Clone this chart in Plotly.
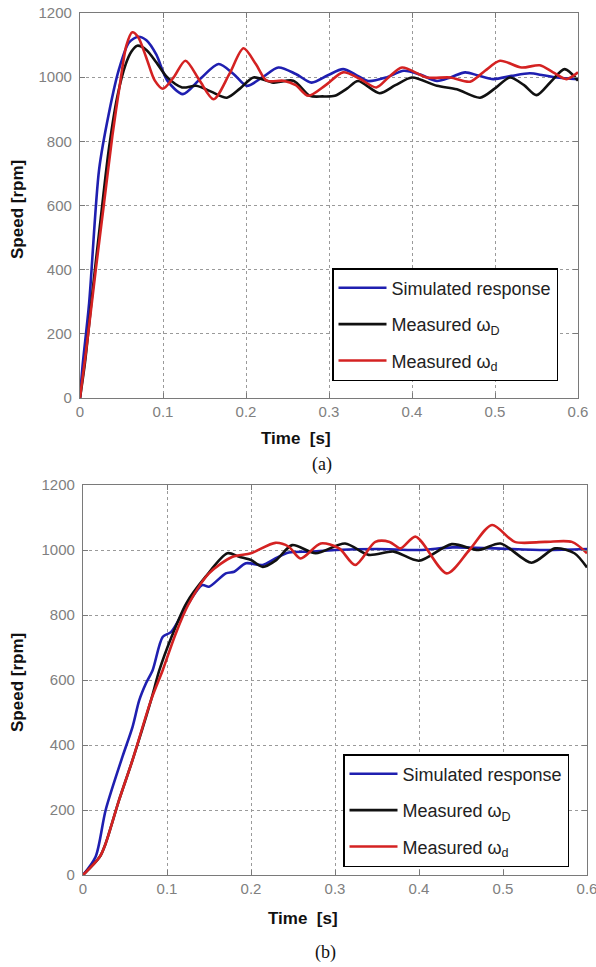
import plotly.graph_objects as go

# ---------------- Data: panel (a) ----------------
sim_a_t = [0, 0.003, 0.011, 0.023, 0.035, 0.047, 0.059, 0.070, 0.080, 0.092, 0.105, 0.124, 0.145, 0.167,
           0.185, 0.201, 0.22, 0.239, 0.26, 0.279, 0.298, 0.317, 0.332, 0.347, 0.37, 0.39, 0.41, 0.43,
           0.447, 0.464, 0.48, 0.498, 0.52, 0.542, 0.558, 0.574, 0.6]
sim_a = [0, 98, 296, 712, 890, 1025, 1108, 1126, 1115, 1070, 990, 947, 995, 1041,
         1010, 973, 1000, 1030, 1010, 983, 1005, 1025, 1008, 988, 1000, 1020, 1008, 988,
         1000, 1015, 1005, 994, 1004, 1012, 1006, 999, 994]

mD_a_t = [0, 0.006, 0.015, 0.025, 0.035, 0.045, 0.055, 0.062, 0.069, 0.08, 0.092, 0.105, 0.123, 0.14,
          0.158, 0.177, 0.193, 0.209, 0.233, 0.257, 0.277, 0.292, 0.307, 0.322, 0.335, 0.361, 0.38,
          0.4, 0.43, 0.454, 0.482, 0.5, 0.518, 0.535, 0.55, 0.567, 0.584, 0.6]
mD_a = [0, 110, 330, 560, 780, 940, 1040, 1080, 1098, 1085, 1046, 1000, 968, 973,
        955, 936, 965, 999, 983, 989, 942, 940, 942, 965, 988, 950, 975,
        999, 973, 962, 936, 965, 999, 975, 944, 985, 1025, 989]

md_a_t = [0, 0.007, 0.019, 0.029, 0.039, 0.049, 0.056, 0.063, 0.07, 0.08, 0.09, 0.1, 0.113, 0.127,
          0.144, 0.161, 0.18, 0.197, 0.212, 0.225, 0.245, 0.26, 0.275, 0.296, 0.317, 0.337, 0.357,
          0.372, 0.388, 0.418, 0.446, 0.47, 0.488, 0.506, 0.532, 0.554, 0.57, 0.586, 0.6]
md_a = [0, 140, 400, 608, 817, 994, 1100, 1140, 1125, 1060, 990, 964, 1000, 1051,
        990, 931, 1010, 1090, 1040, 989, 989, 975, 942, 975, 1015, 995, 968,
        1000, 1030, 999, 999, 986, 1020, 1051, 1030, 1037, 1015, 994, 1015]

# ---------------- Data: panel (b) ----------------
sim_b_t = [0, 0.015, 0.027, 0.047, 0.059, 0.067, 0.075, 0.083, 0.095, 0.105, 0.123, 0.142, 0.15, 0.17,
           0.18, 0.194, 0.214, 0.229, 0.245, 0.27, 0.3, 0.35, 0.4, 0.44, 0.49, 0.55, 0.6]
sim_b = [0, 56, 200, 364, 456, 538, 590, 631, 733, 748, 826, 892, 887, 928,
         933, 959, 954, 974, 992, 995, 1000, 1003, 1000, 1008, 1005, 1000, 1003]

mD_b_t = [0, 0.02, 0.027, 0.043, 0.059, 0.081, 0.091, 0.105, 0.123, 0.146, 0.172, 0.186, 0.2, 0.214,
          0.23, 0.249, 0.277, 0.312, 0.34, 0.37, 0.4, 0.439, 0.471, 0.497, 0.534, 0.562, 0.585, 0.6]
mD_b = [0, 56, 97, 231, 354, 538, 631, 730, 836, 918, 990, 979, 969, 948,
        969, 1015, 990, 1020, 985, 995, 967, 1018, 1000, 1020, 961, 1005, 990, 946]

md_b_t = [0, 0.02, 0.027, 0.043, 0.059, 0.081, 0.095, 0.11, 0.125, 0.15, 0.178, 0.2, 0.229, 0.245,
          0.259, 0.283, 0.305, 0.324, 0.348, 0.365, 0.378, 0.396, 0.433, 0.46, 0.487, 0.514, 0.55,
          0.582, 0.6]
md_b = [0, 56, 97, 231, 354, 538, 631, 740, 830, 928, 979, 990, 1022, 1010,
        974, 1020, 1005, 954, 1025, 1025, 1005, 1041, 928, 1000, 1077, 1025, 1025,
        1025, 990]

x_ticks = [0, 0.1, 0.2, 0.3, 0.4, 0.5, 0.6]
x_labels = ["0", "0.1", "0.2", "0.3", "0.4", "0.5", "0.6"]
y_ticks = [0, 200, 400, 600, 800, 1000, 1200]
names = ["Simulated response", "Measured \u03c9<sub>D</sub>", "Measured \u03c9<sub>d</sub>"]
colors = ["#1f1fb0", "#111111", "#d42222"]

W, H = 596, 967
fig = go.Figure()

panels = [
    ("x", "y", "legend", "a", [(sim_a_t, sim_a), (mD_a_t, mD_a), (md_a_t, md_a)]),
    ("x2", "y2", "legend2", "b", [(sim_b_t, sim_b), (mD_b_t, mD_b), (md_b_t, md_b)]),
]
for xa, ya, lg, tag, series in panels:
    for i, ((t, v), nm, c) in enumerate(zip(series, names, colors)):
        fig.add_trace(go.Scatter(x=t, y=v, mode="lines", name=nm, xaxis=xa, yaxis=ya, legend=lg,
                                 legendgroup=f"{tag}{i}",
                                 line=dict(color=c, width=2.6, shape="spline", smoothing=0.8)))

def px_x(p):
    return p / W

def px_y(p):
    return 1 - p / H

axis_common = dict(showline=True, mirror="ticks", linecolor="#7a7a7a", linewidth=1.2,
                   ticks="inside", ticklen=5, tickcolor="#7a7a7a", automargin=False,
                   ticklabeloverflow="allow",
                   showgrid=True, gridcolor="#9a9a9a", griddash="dot", gridwidth=1,
                   zeroline=False, tickfont=dict(family="Arial, Liberation Sans", size=15, color="#808080"))

# panel geometry (pixels)
a_x0, a_x1, a_y0, a_y1 = 80, 578, 13, 398
b_x0, b_x1, b_y0, b_y1 = 83, 587, 485, 875

legend_common = dict(xanchor="left", yanchor="top", bgcolor="white", bordercolor="black",
                     borderwidth=1.5, font=dict(family="Arial, Liberation Sans", size=18, color="#222222"),
                     itemwidth=48, tracegroupgap=10)

fig.update_layout(
    width=W, height=H, margin=dict(l=0, r=0, t=0, b=0, autoexpand=False),
    paper_bgcolor="white", plot_bgcolor="white",
    xaxis=dict(domain=[px_x(a_x0), px_x(a_x1)], range=[0, 0.6], tickvals=x_ticks, ticktext=x_labels,
               anchor="y", **axis_common),
    yaxis=dict(domain=[px_y(a_y1), px_y(a_y0)], range=[0, 1200], tickvals=y_ticks, anchor="x",
               ticklabelstandoff=4, **axis_common),
    xaxis2=dict(domain=[px_x(b_x0), px_x(b_x1)], range=[0, 0.6], tickvals=x_ticks, ticktext=x_labels,
                anchor="y2", **axis_common),
    yaxis2=dict(domain=[px_y(b_y1), px_y(b_y0)], range=[0, 1200], tickvals=y_ticks, anchor="x2",
                ticklabelstandoff=4, **axis_common),
    legend=dict(x=px_x(332), y=px_y(268), **legend_common),
    legend2=dict(x=px_x(343), y=px_y(754), **legend_common),
)

title_font = dict(family="Arial, Liberation Sans", size=17, color="#111111")
annos = [
    dict(text="<b>Time  [s]</b>", x=px_x(296), y=px_y(439), font=title_font),
    dict(text="<b>Time  [s]</b>", x=px_x(303), y=px_y(918), font=title_font),
    dict(text="<b>Speed [rpm]</b>", x=px_x(17), y=px_y(210), textangle=-90, font=title_font),
    dict(text="<b>Speed [rpm]</b>", x=px_x(17), y=px_y(683), textangle=-90, font=title_font),
    dict(text="(a)", x=px_x(322), y=px_y(464),
         font=dict(family="Liberation Serif, Times New Roman", size=18, color="#111111")),
    dict(text="(b)", x=px_x(325), y=px_y(952),
         font=dict(family="Liberation Serif, Times New Roman", size=18, color="#111111")),
]
for a in annos:
    fig.add_annotation(xref="paper", yref="paper", showarrow=False, xanchor="center", yanchor="middle", **a)

fig.write_html("out.html", config={"displayModeBar": False},
               post_script="document.body.style.margin='0';document.body.style.overflow='hidden';")
